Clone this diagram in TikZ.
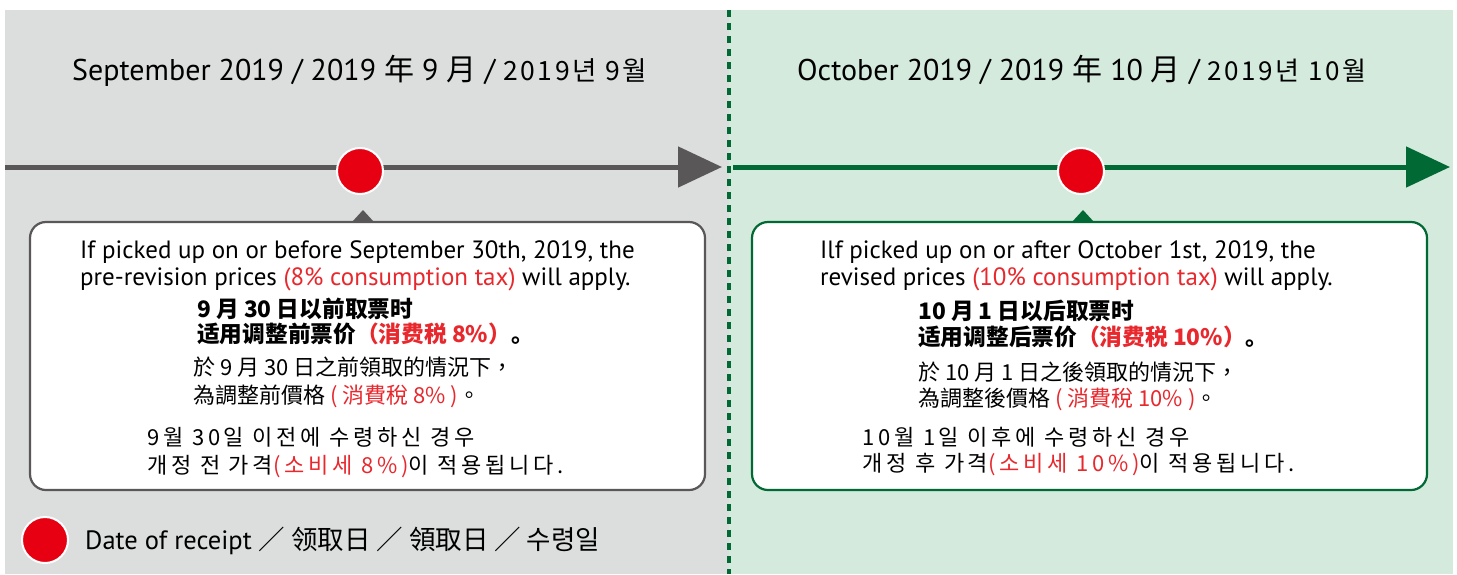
\documentclass[tikz,border=0pt]{standalone}
\usepackage{fontspec}
\setmainfont{PT Sans}
\newfontfamily\zhs{Noto Sans CJK SC}
\newfontfamily\zht{Noto Sans CJK TC}
\newfontfamily\kor{Noto Sans CJK KR}
\newfontfamily\korw{Noto Sans CJK KR}[LetterSpace=17]
\newfontfamily\korh{Noto Sans CJK KR}[LetterSpace=10]
\usetikzlibrary{arrows.meta}
\definecolor{bgGray}{HTML}{DCDDDD}
\definecolor{bgGreen}{HTML}{D3EADD}
\definecolor{dkGray}{HTML}{595757}
\definecolor{dkGreen}{HTML}{006934}
\definecolor{dotRed}{HTML}{E60012}
\definecolor{txtRed}{HTML}{E8282D}
\newcommand{\rd}[1]{\textcolor{txtRed}{#1}}
\tikzset{
  txt/.style={anchor=base west, inner sep=0pt, text=black},
  head/.style={txt, font=\fontsize{30}{34}\selectfont},
  en/.style={txt, font=\fontsize{25}{29}\selectfont},
  zhb/.style={txt, font=\zhs\bfseries\fontsize{22.7}{26}\selectfont},
  zht/.style={txt, font=\zht\fontsize{22}{26}\selectfont},
  ko/.style={txt, font=\korw\fontsize{22}{26}\selectfont},
  rdot/.style={circle, fill=dotRed, draw=white, line width=2pt, minimum size=46pt, inner sep=0pt},
  infobox/.style={draw, fill=white, rounded corners=16pt, line width=2.2pt},
  tl/.style={line width=5pt, -{Triangle[length=44pt,width=40pt]}},
}
\begin{document}
\begin{tikzpicture}[x=1pt,y=-1pt]
\useasboundingbox (0,0) rectangle (1457,574);
% panels
\fill[bgGray] (5,10) rectangle (729,574);
\fill[bgGreen] (729,10) rectangle (1453,574);
\coordinate (divtop) at (729,10);
\coordinate (divbot) at (729,574);
\draw[dkGreen, line width=3.5pt, dash pattern=on 7pt off 6pt] (divtop) -- (divbot);
% headers
\node[head] (h1) at (72,80) {September 2019 / 2019 {\zhs 年} 9 {\zhs 月} / {\korh\fontsize{26.5}{30}\selectfont 2019년 9월}};
\node[head] (h2) at (797,80) {October 2019 / 2019 {\zhs 年} 10 {\zhs 月} / {\korh\fontsize{26}{30}\selectfont 2019년 10월}};
% timelines
\coordinate (l0) at (5,167);
\coordinate (l1) at (722,167);
\coordinate (r0) at (733,167);
\coordinate (r1) at (1450,167);
\draw[tl, dkGray] (l0) -- (l1);
\draw[tl, dkGreen] (r0) -- (r1);
\node[rdot] (d1) at (360,171) {};
\node[rdot] (d2) at (1081,171) {};
% pointers
\fill[dkGray] (363,210) -- (374,222) -- (352,222) -- cycle;
\fill[dkGreen] (1083,210) -- (1094,222) -- (1072,222) -- cycle;
% boxes
\draw[infobox, draw=dkGray] (30,222) rectangle (705,490);
\draw[infobox, draw=dkGreen] (752,222) rectangle (1427,490);
% left text
\node[en] (a1) at (80,258) {If picked up on or before September 30th, 2019, the};
\node[en] (a2) at (80,285) {pre-revision prices \rd{(8\% consumption tax)} will apply.};
\node[zhb] (a3) at (197,317) {9 月 30 日以前取票时};
\node[zhb] (a4) at (197,342) {适用调整前票价\rd{（消费税 8\%）}。};
\node[zht] (a5) at (193,375) {於 9 月 30 日之前領取的情況下，};
\node[zht] (a6) at (193,403) {為調整前價格 \rd{( 消費稅 8\% )}。};
\node[ko] (a7) at (147,445) {9월 30일 이전에 수령하신 경우};
\node[ko] (a8) at (147,473) {개정 전 가격\rd{(소비세 8\%)}이 적용됩니다.};
% right text
\node[en] (b1) at (820,258) {Ilf picked up on or after October 1st, 2019, the};
\node[en] (b2) at (820,285) {revised prices \rd{(10\% consumption tax)} will apply.};
\node[zhb] (b3) at (918,319) {10 月 1 日以后取票时};
\node[zhb] (b4) at (918,345) {适用调整后票价\rd{（消费税 10\%）}。};
\node[zht] (b5) at (918,380) {於 10 月 1 日之後領取的情況下，};
\node[zht] (b6) at (918,406) {為調整後價格 \rd{( 消費稅 10\% )}。};
\node[ko] (b7) at (862,445) {10월 1일 이후에 수령하신 경우};
\node[ko] (b8) at (862,471) {개정 후 가격\rd{(소비세 10\%)}이 적용됩니다.};
% legend
\node[rdot] (ld) at (45,540) {};
\node[en, font=\fontsize{26.5}{30}\selectfont] (lt) at (85,549) {Date of receipt {\zhs ／ 领取日 ／ }{\zht 領取日 ／ }{\kor 수령일}};
\end{tikzpicture}
\end{document}
